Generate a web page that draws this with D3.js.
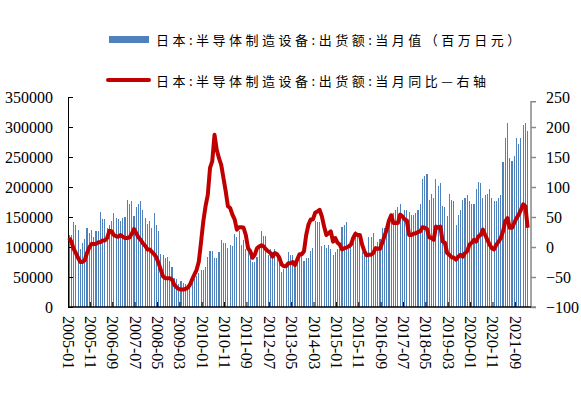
<!DOCTYPE html>
<html>
<head>
<meta charset="utf-8">
<script src="https://cdn.jsdelivr.net/npm/d3@7"></script>
<style>
body { margin: 0; background: #fff; }
text { fill: #000; }
.num { font-family: "Liberation Serif", "Times New Roman", serif; font-size: 16px; }
.legend { font-family: "Noto Sans CJK SC", sans-serif; font-size: 13px; letter-spacing: 3.5px; }
</style>
</head>
<body>
<div id="chart"></div>
<script>
// 2005-01 .. 2022-03 on the axis, data runs to 2022-02
const firstMonth = new Date(2005, 0, 1);
const axisMonths = 207;

// 出货额 当月值 (百万日元)
const shipments = [
    120000, 120000, 142000, 137000, 129000, 97000, 106000, 114000, 132000, 124000,
    128000, 117000, 127000, 127000, 159000, 147000, 146000, 131000, 137000, 144000,
    157000, 149000, 146000, 144000, 149000, 150000, 179000, 172000, 177000, 152000,
    167000, 172000, 176000, 162000, 149000, 139000, 144000, 132000, 156000, 137000,
    126000, 89000, 86000, 81000, 84000, 76000, 67000, 49000, 46000, 39000,
    44000, 40000, 39000, 36000, 37000, 42000, 47000, 51000, 57000, 61000,
    62000, 66000, 84000, 94000, 94000, 81000, 82000, 92000, 112000, 107000,
    107000, 99000, 104000, 101000, 122000, 117000, 127000, 104000, 111000, 96000,
    96000, 87000, 75000, 75000, 84000, 101000, 126000, 119000, 119000, 87000,
    96000, 91000, 96000, 89000, 84000, 59000, 64000, 66000, 92000, 87000,
    87000, 71000, 84000, 87000, 86000, 77000, 82000, 81000, 94000, 99000,
    144000, 141000, 142000, 101000, 104000, 99000, 104000, 97000, 87000, 92000,
    96000, 96000, 134000, 136000, 141000, 97000, 102000, 122000, 127000, 121000,
    111000, 92000, 86000, 87000, 117000, 117000, 124000, 101000, 109000, 114000,
    132000, 131000, 135000, 139000, 147000, 156000, 162000, 166000, 171000, 154000,
    162000, 162000, 159000, 154000, 154000, 156000, 161000, 171000, 214000, 219000,
    222000, 179000, 189000, 182000, 214000, 201000, 206000, 169000, 166000, 151000,
    189000, 179000, 177000, 137000, 154000, 161000, 179000, 181000, 186000, 177000,
    171000, 172000, 197000, 209000, 206000, 181000, 187000, 189000, 196000, 182000,
    177000, 177000, 181000, 187000, 241000, 282000, 306000, 249000, 244000, 252000,
    281000, 272000, 282000, 304000, 306000, 294000
];

// 当月同比 (%)
const yoy = [
    15, 9, -3, -10, -18, -25, -25, -22, -10, -1,
    5, 5, 5, 8, 8, 11, 11, 15, 27, 26,
    20, 18, 17, 20, 17, 15, 15, 16, 22, 30,
    23, 16, 12, 6, 2, -4, -4, -8, -12, -17,
    -27, -38, -49, -52, -52, -52, -54, -63, -67, -70,
    -71, -71, -70, -68, -63, -54, -46, -38, -24, 9,
    43, 68, 87, 132, 143, 187, 162, 148, 137, 115,
    93, 68, 65, 54, 46, 29, 33, 33, 32, 20,
    -2, -7, -18, -13, -2, 1, 3, 1, -4, -7,
    -10, -16, -10, -12, -18, -29, -32, -32, -27, -27,
    -25, -30, -21, -12, -12, -7, 20, 37, 46, 46,
    57, 59, 62, 51, 34, 20, 23, 26, 9, 15,
    7, 4, -4, -2, -1, 1, 4, 15, 22, 20,
    20, 4, -7, -14, -13, -13, -10, -2, -3, -3,
    7, 18, 29, 44, 53, 40, 40, 40, 54, 51,
    46, 44, 20, 20, 22, 23, 25, 26, 33, 32,
    30, 16, 15, 12, 34, 32, 34, 9, 7, -10,
    -13, -17, -18, -21, -16, -13, -16, -10, -7, 4,
    7, 12, 9, 18, 20, 29, 20, 12, 4, -2,
    -4, 4, 9, 15, 26, 43, 48, 32, 32, 40,
    48, 54, 62, 71, 68, 32
];

const leftTicks = [0, 50000, 100000, 150000, 200000, 250000, 300000, 350000];
const rightTicks = [-100, -50, 0, 50, 100, 150, 200, 250];
const xTickLabels = [
    "2005-01", "2005-11", "2006-09", "2007-07", "2008-05", "2009-03", "2010-01",
    "2010-11", "2011-09", "2012-07", "2013-05", "2014-03", "2015-01", "2015-11",
    "2016-09", "2017-07", "2018-05", "2019-03", "2020-01", "2020-11", "2021-09"
];
const legendLabels = [
    "日本:半导体制造设备:出货额:当月值（百万日元）",
    "日本:半导体制造设备:出货额:当月同比—右轴"
];

const svgWidth = 581;
const svgHeight = 394;
const plot = { left: 68, right: 531, top: 97, bottom: 307 };
const blue = "#4F81BD";
const red = "#C00000";

const fmt = d3.timeFormat("%Y-%m");
const months = d3.timeMonth.range(firstMonth, d3.timeMonth.offset(firstMonth, axisMonths)).map(fmt);

const svg = d3.select("#chart")
    .append("svg")
    .attr("width", svgWidth)
    .attr("height", svgHeight);

const x = d3.scaleBand()
    .domain(months)
    .range([plot.left, plot.right]);

const yLeft = d3.scaleLinear()
    .domain([0, 350000])
    .range([plot.bottom, plot.top]);

const yRight = d3.scaleLinear()
    .domain([-100, 250])
    .range([plot.bottom, plot.top]);

const bw = x.bandwidth();
const barW = 1.1;

// Bars
svg.append("g")
    .selectAll("rect")
    .data(shipments)
    .join("rect")
    .attr("x", (d, i) => x(months[i]) + (bw - barW) / 2)
    .attr("y", d => yLeft(d))
    .attr("width", barW)
    .attr("height", d => yLeft(0) - yLeft(d))
    .attr("fill", blue)
    .attr("shape-rendering", "crispEdges");

// Left axis
const leftAxis = svg.append("g")
    .attr("transform", `translate(${plot.left},0)`)
    .call(d3.axisLeft(yLeft).tickValues(leftTicks).tickSize(-5).tickPadding(15).tickFormat(d3.format("d")));
leftAxis.select(".domain").attr("stroke", "#000");
leftAxis.selectAll("line").attr("stroke", "#000");
leftAxis.selectAll("text").attr("class", "num").attr("font-family", null).attr("font-size", null);

// Right axis
const rightAxis = svg.append("g")
    .attr("transform", `translate(${plot.right},0)`)
    .call(d3.axisRight(yRight).tickValues(rightTicks).tickSize(5).tickPadding(10));
rightAxis.select(".domain")
    .attr("stroke", "#888")
    .attr("stroke-width", 1.5)
    .attr("d", `M5,${yRight(242)}H0V${plot.bottom}H5`);
rightAxis.selectAll(".tick line").attr("stroke", "#888").attr("stroke-width", 1.5)
    .filter(d => d === 250).remove();
rightAxis.selectAll("text").attr("class", "num").attr("font-family", null).attr("font-size", null);

// Bottom axis
const bottom = svg.append("g");
bottom.append("line")
    .attr("x1", plot.left).attr("x2", plot.right)
    .attr("y1", plot.bottom).attr("y2", plot.bottom)
    .attr("stroke", "#000").attr("stroke-width", 1.5);
bottom.selectAll(".xt")
    .data(xTickLabels.slice(1))
    .join("line")
    .attr("x1", d => x(d)).attr("x2", d => x(d))
    .attr("y1", plot.bottom).attr("y2", plot.bottom - 5)
    .attr("stroke", "#000");
bottom.selectAll("text")
    .data(xTickLabels)
    .join("text")
    .attr("class", "num")
    .attr("transform", d => `translate(${x(d)},${plot.bottom + 9}) rotate(90)`)
    .attr("dominant-baseline", "central")
    .text(d => d);

// Line
const line = d3.line()
    .x((d, i) => x(months[i]) + bw / 2)
    .y(d => yRight(d));

svg.append("path")
    .datum(yoy)
    .attr("d", line)
    .attr("fill", "none")
    .attr("stroke", red)
    .attr("stroke-width", 4)
    .attr("stroke-linejoin", "round");

// Legend
const legend = svg.append("g");
legend.append("rect")
    .attr("x", 109).attr("y", 36)
    .attr("width", 40).attr("height", 7)
    .attr("fill", blue);
legend.append("line")
    .attr("x1", 108).attr("x2", 149)
    .attr("y1", 80).attr("y2", 80)
    .attr("stroke", red).attr("stroke-width", 4)
    .attr("stroke-linecap", "round");
legend.selectAll("text")
    .data(legendLabels)
    .join("text")
    .attr("class", "legend")
    .attr("x", 156)
    .attr("y", (d, i) => i === 0 ? 39.5 : 80)
    .attr("dominant-baseline", "central")
    .text(d => d);
</script>
</body>
</html>
